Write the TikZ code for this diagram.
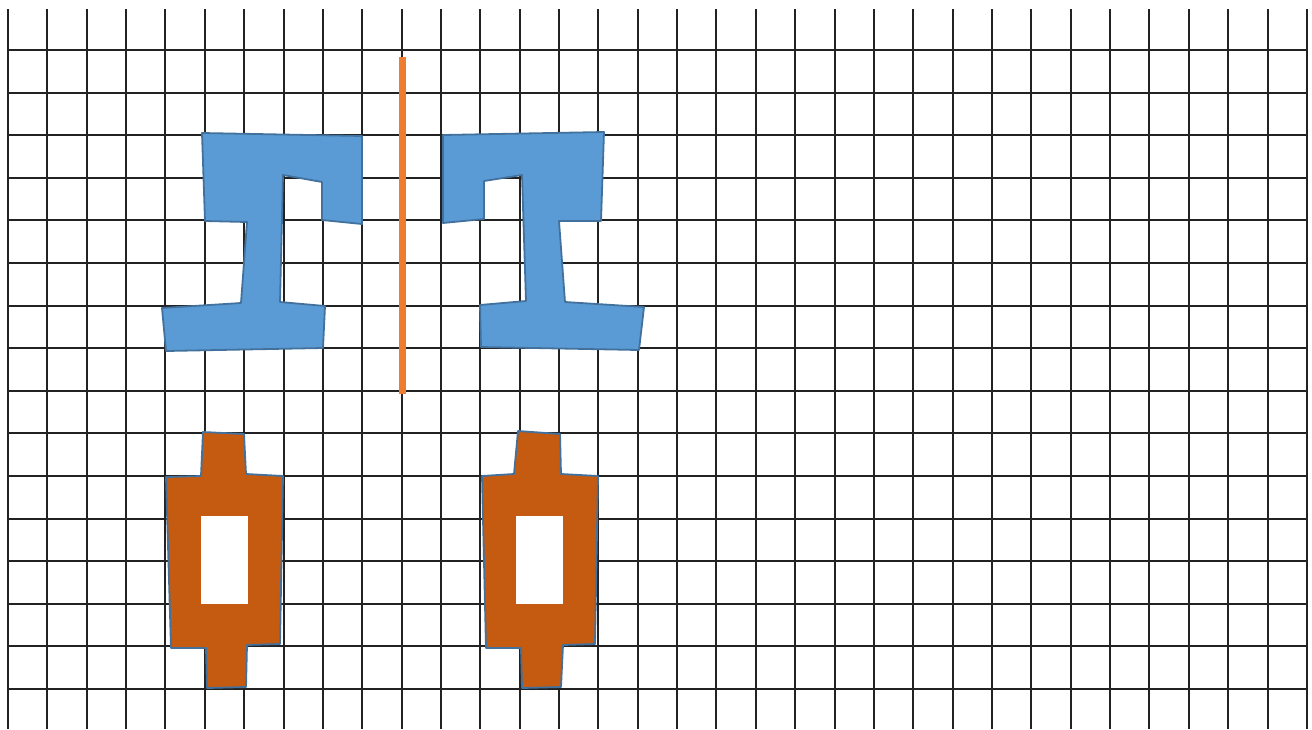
\documentclass[tikz,border=0pt]{standalone}
\usepackage{tikz}
\definecolor{gridblack}{HTML}{222222}
\definecolor{ibeam}{HTML}{5B9BD5}
\definecolor{ibeamedge}{HTML}{41719C}
\definecolor{rust}{HTML}{C55A11}
\definecolor{mirror}{HTML}{ED7D31}

\begin{document}
\begin{tikzpicture}[x=1pt, y=-1pt,
    gridline/.style={gridblack, line width=2pt},
    blueshape/.style={fill=ibeam, draw=ibeamedge, line width=1.8pt, line join=round},
    brownshape/.style={fill=rust, draw=ibeamedge, line width=1.8pt, line join=round},
    holebox/.style={fill=white}]
  \useasboundingbox (0,0) rectangle (1312,729);
  % --- grid ---
  \foreach \i [evaluate=\i as \gx using {round(8+\i*39.36)}] in {0,...,33}
     \draw[gridline] (\gx,9) -- (\gx,729);
  \foreach \j [evaluate=\j as \gy using {round(50+\j*42.6)}] in {0,...,15}
     \draw[gridline] (8,\gy) -- (1307,\gy);
  % --- mirror line ---
  \draw[mirror, line width=7pt] (402,57) -- (402,394);
  % --- left I shape ---
  \draw[blueshape] (202,133) -- (362,136) -- (362,224) -- (322,220) -- (322,182)
     -- (283,175) -- (280,302) -- (325,306) -- (323,348) -- (166,351)
     -- (162,308) -- (241,303) -- (247,222) -- (205,221) -- cycle;
  % --- right I shape ---
  \draw[blueshape] (443,135) -- (604,132) -- (601,221) -- (559,221) -- (565,302)
     -- (644,307) -- (639,350) -- (481,347) -- (480,305) -- (526,301)
     -- (522,175) -- (484,181) -- (484,219) -- (443,223) -- cycle;
  % --- left frame ---
  \draw[brownshape] (203,432) -- (244,434) -- (246,474) -- (283,476) -- (280,644)
     -- (247,645) -- (246,687) -- (207,688) -- (206,648) -- (171,648)
     -- (166,477) -- (201,476) -- cycle;
  \fill[holebox] (201,516) rectangle (248,604);
  % --- right frame ---
  \draw[brownshape] (518,431) -- (560,434) -- (561,474) -- (598,476) -- (595,644)
     -- (563,645) -- (561,687) -- (522,688) -- (521,648) -- (486,648)
     -- (482,476) -- (514,474) -- cycle;
  \fill[holebox] (516,516) rectangle (563,604);
\end{tikzpicture}
\end{document}
